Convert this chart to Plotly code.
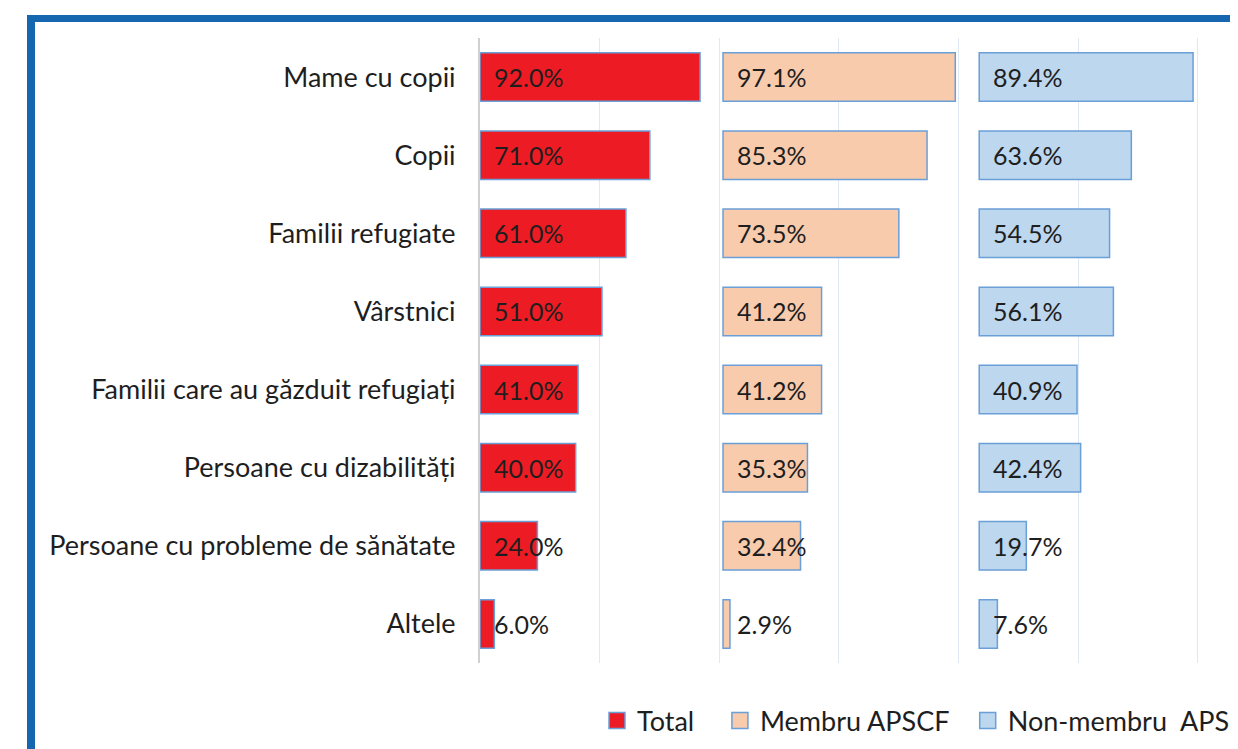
import plotly.graph_objects as go

categories = ["Mame cu copii", "Copii", "Familii refugiate", "Vârstnici",
              "Familii care au găzduit refugiați", "Persoane cu dizabilități",
              "Persoane cu probleme de sănătate", "Altele"]
total = [92.0, 71.0, 61.0, 51.0, 41.0, 40.0, 24.0, 6.0]
membru = [97.1, 85.3, 73.5, 41.2, 41.2, 35.3, 32.4, 2.9]
non_membru = [89.4, 63.6, 54.5, 56.1, 40.9, 42.4, 19.7, 7.6]
series_names = ["Total", "Membru APSCF", "Non-membru\u00a0 APSCF"]

# layout constants (page pixel positions; page has a small body margin)
DX, DY = 8, 7
VIEW_W, H = 1238, 749
W = 1300  # figure is wider than the viewport: the right part is cropped as in the reference
PLOT_LEFT, PLOT_TOP, PLOT_BOTTOM = 480, 37, 662
L = PLOT_LEFT - DX
T = PLOT_TOP - DY
B = H - (PLOT_BOTTOM - DY)
R = 0
PX_PER_UNIT = 2.392
offsets = [0, 101.6, 208.7]
legend_pad = [3, 2, 0]
fills = ["#ED1C24", "#F8CBAD", "#BDD7EE"]
outline = "#6A9FD8"
FONT = "Lato"
FS_CAT = 27
FS_LBL = 25
FS_LEG = 27
TXT = "#1E1E1E"

pw = W - L - R
ph = H - T - B

fig = go.Figure()
for name, vals, off, col, pad in zip(series_names, [total, membru, non_membru],
                                     offsets, fills, legend_pad):
    fig.add_trace(go.Bar(
        y=categories, x=vals, base=[off] * len(vals), orientation="h",
        name=name, legendgroup=name, showlegend=False,
        marker=dict(color=col, line=dict(color=outline, width=1.5)),
        hoverinfo="skip"))
    # legend entry with a larger square symbol, like the reference
    fig.add_trace(go.Scatter(
        x=[None], y=[None], mode="markers", name=name + "\u00a0" * pad, legendgroup=name,
        marker=dict(symbol="square", size=16, color=col, line=dict(color=outline, width=1.5)),
        hoverinfo="skip"))
    for c, v in zip(categories, vals):
        fig.add_annotation(x=off, y=c, text=f"{v:.1f}%", showarrow=False,
                           xanchor="left", yanchor="middle", xshift=12,
                           font=dict(family=FONT, size=FS_LBL, color=TXT))

def px_x(p):
    return (p - DX - L) / pw

def px_y(p):
    return (H - B - (p - DY)) / ph

border = "#1667B0"
fig.add_shape(type="rect", xref="paper", yref="paper", x0=px_x(27), x1=px_x(35),
              y0=px_y(H + 20), y1=px_y(14), fillcolor=border, line_width=0, layer="above")
fig.add_shape(type="rect", xref="paper", yref="paper", x0=px_x(27), x1=px_x(W + 20),
              y0=px_y(21), y1=px_y(14), fillcolor=border, line_width=0, layer="above")

fig.update_layout(
    width=W, height=H, margin=dict(l=L, r=R, t=T, b=B, autoexpand=False),
    paper_bgcolor="white", plot_bgcolor="white",
    barmode="overlay", bargap=0.38,
    font=dict(family=FONT, size=FS_CAT, color=TXT),
    showlegend=True,
    legend=dict(orientation="h", x=px_x(597), y=px_y(720), xanchor="left", yanchor="middle",
                font=dict(family=FONT, size=FS_LEG, color=TXT), itemwidth=30,
                itemsizing="trace", traceorder="normal"),
    xaxis=dict(range=[0, pw / PX_PER_UNIT], dtick=50, tick0=0, showgrid=True,
               gridcolor="#DEE9F5", gridwidth=1.2, zeroline=False, showticklabels=False,
               showline=False, fixedrange=True),
    yaxis=dict(categoryorder="array", categoryarray=categories, autorange="reversed",
               showgrid=False, zeroline=False, showline=True, linecolor="#D0D0D0",
               linewidth=2, ticks="", ticklabelstandoff=17,
               tickfont=dict(family=FONT, size=FS_CAT, color=TXT)),
)

fig.write_html("out.html")
